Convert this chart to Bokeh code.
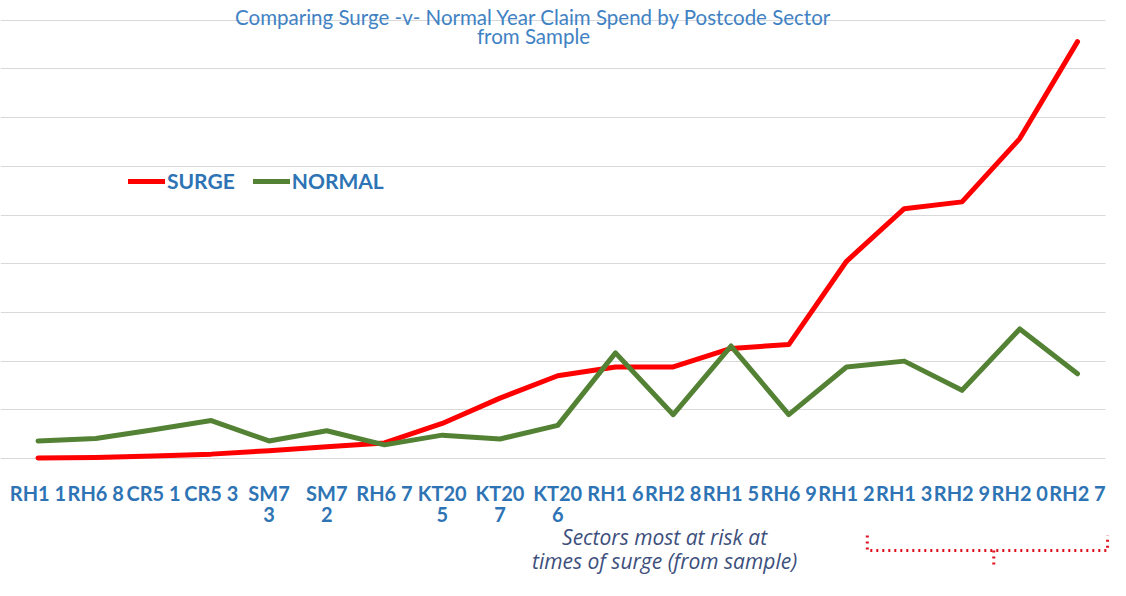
from bokeh.plotting import figure
from bokeh.models import (ColumnDataSource, Range1d, FixedTicker, Grid, Label,
                          Legend, LegendItem, BoxAnnotation)
from bokeh.core.properties import value
from bokeh.embed import file_html
from bokeh.resources import INLINE

# ---------------- data ----------------
sectors = ["RH1 1", "RH6 8", "CR5 1", "CR5 3", "SM7 3", "SM7 2", "RH6 7", "KT20 5",
           "KT20 7", "KT20 6", "RH1 6", "RH2 8", "RH1 5", "RH6 9", "RH1 2", "RH1 3",
           "RH2 9", "RH2 0", "RH2 7"]
tick_labels = ["RH1 1", "RH6 8", "CR5 1", "CR5 3", "SM7\n3", "SM7\n2", "RH6 7", "KT20\n5",
               "KT20\n7", "KT20\n6", "RH1 6", "RH2 8", "RH1 5", "RH6 9", "RH1 2", "RH1 3",
               "RH2 9", "RH2 0", "RH2 7"]
surge = [0.01, 0.02, 0.05, 0.09, 0.16, 0.24, 0.32, 0.72, 1.24, 1.70, 1.88, 1.88,
         2.26, 2.34, 4.05, 5.13, 5.27, 6.57, 8.56]
normal = [0.36, 0.41, 0.59, 0.78, 0.36, 0.57, 0.28, 0.48, 0.40, 0.68, 2.17, 0.90,
          2.31, 0.90, 1.88, 2.00, 1.40, 2.66, 1.74]
grid_levels = list(range(0, 10))
title_lines = ["Comparing Surge -v- Normal Year Claim Spend by Postcode Sector", "from Sample"]
note_lines = ["Sectors most at risk at", "times of surge (from sample)"]
series_names = ["SURGE", "NORMAL"]

# ---------------- styling ----------------
BLUE = "#2E74B5"
TITLE_BLUE = "#4182C4"
RED = "#FF0000"
GREEN = "#548235"
NOTE = "#3D4F7C"
FONT = "Lato"

W, H = 1110, 580
p = figure(width=W, height=H, output_backend="svg", toolbar_location=None,
           x_range=Range1d(-0.649, 18.571), y_range=Range1d(-2.505, 9.405),
           x_axis_type=None, y_axis_type=None, min_border=0)
p.outline_line_color = None
p.background_fill_color = "white"
p.border_fill_color = "white"

p.add_layout(Grid(dimension=1, ticker=FixedTicker(ticks=grid_levels),
                  grid_line_color="#D9D9D9", grid_line_width=1.2))
# grid stops short of the right edge
p.add_layout(BoxAnnotation(left=18.485, bottom=-0.2, fill_color="white", fill_alpha=1,
                           line_color=None, level="underlay"))

xs = list(range(len(sectors)))
src = ColumnDataSource(dict(x=xs, sector=sectors, surge=surge, normal=normal))
r1 = p.line("x", "surge", source=src, line_color=RED, line_width=5,
            line_cap="round", line_join="round")
r2 = p.line("x", "normal", source=src, line_color=GREEN, line_width=5,
            line_cap="round", line_join="round")

legend = Legend(items=[LegendItem(label=series_names[0], renderers=[r1]),
                       LegendItem(label=series_names[1], renderers=[r2])],
                orientation="horizontal", location=(128, 387),
                glyph_width=37, glyph_height=22, label_height=22, label_standoff=2,
                spacing=18, padding=0, margin=0, border_line_color=None,
                background_fill_alpha=0, label_text_font=FONT,
                label_text_font_style="bold", label_text_color=BLUE,
                label_text_font_size="21px")
p.add_layout(legend)

# category tick labels (two rows)
row1 = [t.split("\n")[0] for t in tick_labels]
row2 = [t.split("\n")[1] if "\n" in t else "" for t in tick_labels]
lab = ColumnDataSource(dict(x=xs, r1=row1, r2=row2,
                            y1=[-0.698] * len(xs), y2=[-1.150] * len(xs)))
for col, ycol in (("r1", "y1"), ("r2", "y2")):
    p.text("x", ycol, text=col, source=lab, text_align="center", text_baseline="middle",
           text_font=value(FONT), text_font_style="bold", text_font_size="20px",
           text_color=BLUE)

# title
p.add_layout(Label(x=8.58, y=9.076, text=title_lines[0], text_align="center",
                   text_baseline="alphabetic", text_font=FONT, text_font_size="20.5px",
                   text_color=TITLE_BLUE))
p.add_layout(Label(x=8.58, y=8.686, text=title_lines[1], text_align="center",
                   text_baseline="alphabetic", text_font=FONT, text_font_size="20.5px",
                   text_color=TITLE_BLUE))

# note
p.add_layout(Label(x=10.85, y=-1.602, text=note_lines[0], text_align="center",
                   text_baseline="middle", text_font="Open Sans", text_font_style="italic",
                   text_font_size="21px", text_color=NOTE))
p.add_layout(Label(x=10.85, y=-2.095, text=note_lines[1], text_align="center",
                   text_baseline="middle", text_font="Open Sans", text_font_style="italic",
                   text_font_size="21px", text_color=NOTE))

# bracket below the riskiest sectors
bl, br, bc = 14.36, 18.52, 16.55
by, btop, bbot = -1.889, -1.581, -2.218
p.multi_line(xs=[[bl, bl, br, br], [bc, bc]], ys=[[btop, by, by, btop], [by, bbot]],
             line_color="#E0101E", line_width=3, line_dash="2 4")

open("out.html", "w").write(file_html(p, INLINE))
